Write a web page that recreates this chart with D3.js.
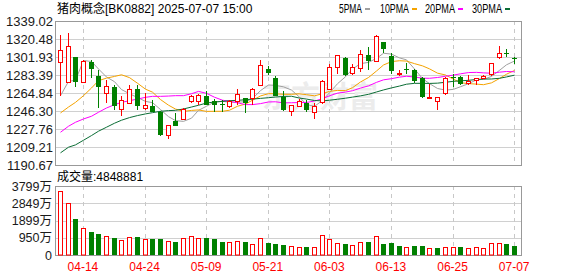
<!DOCTYPE html>
<html>
<head>
<meta charset="utf-8">
<script src="https://cdn.jsdelivr.net/npm/d3@7"></script>
<style>
  body { margin: 0; background: #fff; }
  svg { display: block; }
  text { font-family: "Liberation Sans", "Noto Sans CJK SC", sans-serif; }
</style>
</head>
<body>
<div id="chart"></div>
<script>
// daily k-line data, 2025-04-09 .. 2025-07-07 (prices in points, volume in 万)
const dates = [
  "04-09","04-10","04-11","04-14","04-15","04-16","04-17","04-18","04-21","04-22","04-23","04-24","04-25","04-28","04-29","04-30",
  "05-06","05-07","05-08","05-09","05-12","05-13","05-14","05-15","05-16","05-19","05-20","05-21","05-22","05-23","05-26","05-27","05-28","05-29","05-30",
  "06-03","06-04","06-05","06-06","06-09","06-10","06-11","06-12","06-13","06-16","06-17","06-18","06-19","06-20","06-23","06-24","06-25","06-26","06-27","06-30",
  "07-01","07-02","07-03","07-04","07-07"
];
const openPrices = [
  1296.6,1276.1,1302.1,1276.1,1296.6,1282.6,1264.5,1270.6,1248.4,1254.5,1269.2,1249.1,1251.8,1245.3,1222.0,1235.7,
  1238.1,1256.9,1256.9,1261.4,1256.9,1253.8,1251.8,1256.2,1259.3,1259.7,1273.0,1289.8,1280.2,1260.7,1246.7,1251.8,1254.5,1245.0,1255.2,
  1269.0,1291.5,1301.0,1285.7,1290.4,1304.1,1297.3,1317.1,1303.1,1284.9,1289.4,1288.7,1280.2,1259.7,1256.2,1265.1,1281.5,1281.2,1275.1,1277.8,
  1280.2,1284.3,1302.4,1305.8,1301.0
];
const highPrices = [
  1324.7,1327.0,1302.1,1299.0,1299.0,1288.1,1278.5,1273.0,1261.4,1273.3,1273.3,1264.8,1258.0,1246.7,1231.9,1244.3,
  1249.1,1263.1,1263.3,1267.2,1259.0,1258.0,1258.0,1269.2,1260.0,1269.6,1299.0,1292.8,1282.6,1267.2,1252.8,1258.7,1257.3,1254.5,1278.1,
  1294.9,1304.1,1301.7,1294.9,1309.3,1312.7,1325.0,1317.5,1305.8,1288.1,1295.6,1289.4,1281.2,1273.9,1260.4,1281.0,1284.9,1282.0,1283.6,1280.5,
  1283.6,1295.9,1313.4,1309.9,1301.7
];
const lowPrices = [
  1262.1,1275.8,1270.6,1276.1,1280.2,1249.1,1254.2,1247.4,1240.9,1254.5,1247.7,1247.7,1245.3,1221.0,1217.6,1230.6,
  1238.1,1254.5,1252.5,1252.8,1245.3,1245.3,1249.8,1252.8,1244.3,1252.8,1273.0,1283.6,1261.4,1246.0,1241.6,1251.8,1245.0,1238.5,1253.5,
  1268.3,1284.6,1281.9,1283.6,1286.0,1288.7,1297.3,1305.8,1284.6,1281.9,1284.6,1275.1,1259.3,1259.0,1247.7,1262.8,1270.6,1272.7,1272.7,1272.7,
  1279.2,1282.6,1299.7,1301.7,1294.9
];
const closePrices = [
  1309.3,1313.4,1275.7,1298.3,1289.8,1270.6,1272.0,1251.8,1257.6,1268.5,1251.1,1252.2,1245.3,1222.0,1231.9,1230.6,
  1248.4,1261.4,1262.8,1252.8,1252.5,1252.2,1256.2,1263.4,1254.5,1269.0,1293.5,1285.3,1261.4,1247.0,1252.2,1256.9,1247.7,1251.8,1277.4,
  1291.5,1303.5,1283.6,1291.5,1305.2,1298.3,1324.0,1310.0,1287.0,1285.7,1288.4,1276.8,1260.7,1261.0,1260.4,1280.2,1280.5,1274.3,1276.8,1280.2,
  1282.6,1295.6,1305.8,1305.2,1299.7
];
const volumes = [
  3524,2863,1982,1468,1266,1156,1028,936,826,973,973,863,881,881,771,716,
  918,1064,918,936,881,716,697,752,716,587,918,661,606,551,477,422,440,422,1083,
  863,642,606,532,697,716,1028,606,661,496,422,496,496,367,385,422,422,440,367,422,
  367,642,642,606,485
];
const ma5 = [
  1262.1,1276.8,1278.0,1298.3,1297.3,1289.6,1281.3,1276.5,1268.4,1264.1,1260.2,1256.2,1254.9,1247.8,1240.5,1236.4,
  1235.6,1238.9,1247.0,1251.2,1255.6,1256.3,1255.3,1255.4,1255.8,1259.1,1267.3,1273.1,1272.7,1271.2,1267.9,1260.6,1253.0,1251.1,1257.2,
  1265.1,1274.4,1281.6,1289.5,1295.1,1296.4,1300.5,1305.8,1304.9,1301.0,1299.0,1289.6,1279.7,1274.5,1269.5,1267.8,1268.6,1271.3,1274.4,1278.4,
  1278.9,1281.9,1288.2,1293.9,1297.8
];
const ma10 = [
  1244.3,1250.4,1255.2,1262.1,1270.0,1277.5,1280.2,1281.9,1283.6,1280.7,1274.9,1268.8,1265.7,1258.1,1252.3,1248.3,
  1245.9,1246.9,1247.4,1245.9,1246.0,1246.0,1247.1,1251.2,1253.5,1257.4,1261.8,1264.2,1264.1,1263.5,1263.5,1264.0,1263.1,1261.9,1264.2,
  1266.5,1267.5,1267.3,1270.3,1276.2,1280.8,1287.5,1293.7,1297.2,1298.1,1297.7,1295.1,1292.8,1289.7,1285.3,1283.4,1279.1,1275.5,1274.5,1274.0,
  1273.4,1275.3,1279.8,1284.2,1288.1
];
const ma20 = [
  1224.4,1230.6,1234.7,1238.1,1240.9,1245.0,1249.4,1252.8,1255.2,1256.9,1258.6,1260.4,1261.4,1261.4,1261.7,1262.1,
  1262.1,1264.1,1266.5,1264.5,1260.5,1257.4,1256.4,1254.7,1252.9,1252.9,1253.9,1255.6,1255.8,1254.7,1254.8,1255.0,1255.1,1256.6,1258.9,
  1262.0,1264.7,1265.8,1267.2,1269.9,1272.2,1275.8,1278.4,1279.6,1281.2,1282.1,1281.3,1280.1,1280.0,1280.8,1282.1,1283.3,1284.6,1285.9,1286.1,
  1285.6,1285.2,1286.3,1287.0,1286.7
];
const ma30 = [
  1203.2,1209.0,1211.4,1216.2,1221.0,1225.5,1229.6,1233.7,1236.8,1239.5,1241.6,1243.3,1244.6,1246.0,1246.7,1247.0,
  1248.4,1250.4,1252.2,1254.5,1255.6,1256.2,1256.9,1257.3,1257.9,1258.6,1259.3,1260.0,1260.7,1261.3,1261.5,1259.6,1258.6,1257.1,1256.7,
  1257.4,1258.4,1259.5,1260.6,1261.9,1263.5,1265.9,1268.0,1270.1,1272.0,1273.9,1274.8,1274.8,1274.7,1275.0,1275.9,1276.9,1277.4,1277.9,1278.8,
  1279.2,1279.3,1280.0,1281.4,1283.2
];

const priceTicks = [1190.67, 1209.21, 1227.76, 1246.30, 1264.84, 1283.39, 1301.93, 1320.48, 1339.02];
const volumeTicks = [0, 950, 1899, 2849, 3799];
const dateTicks = ["04-14", "04-24", "05-09", "05-21", "06-03", "06-13", "06-25", "07-07"];
const maNames = ["5PMA", "10PMA", "20PMA", "30PMA"];
const sectorName = "猪肉概念";
const sectorCode = "BK0882";
const stamp = "2025-07-07 15:00";
const lastVolume = 4848881;

const RED = "#ff0000", GREEN = "#008000";
const maColors = ["#a0a0a0", "#f5a300", "#ff00ff", "#0b6d35"];

const W = 578, H = 276;
const left = 55, right = 522;
const price = { top: 21, bottom: 165 };
const vol = { top: 186, bottom: 255 };

const svg = d3.select("#chart").append("svg")
    .attr("width", W)
    .attr("height", H);

const x = d3.scaleBand().domain(dates).range([56, 518]);
const cx = d => Math.round(x(d) + x.bandwidth() / 2);
const y = d3.scaleLinear()
    .domain([priceTicks[0], priceTicks[priceTicks.length - 1]])
    .range([price.bottom, price.top]);
const yv = d3.scaleLinear()
    .domain([0, volumeTicks[volumeTicks.length - 1]])
    .range([vol.bottom, vol.top]);

const rows = dates.map((d, i) => ({
    date: d,
    open: openPrices[i], high: highPrices[i], low: lowPrices[i], close: closePrices[i],
    volume: volumes[i],
    up: closePrices[i] >= openPrices[i],
    volUp: i === 0 ? closePrices[i] >= openPrices[i] : closePrices[i] >= closePrices[i - 1]
}));

// grid
const grid = svg.append("g").attr("fill", "none");
grid.selectAll(".hp").data(priceTicks).join("line")
    .attr("x1", left).attr("x2", right)
    .attr("y1", d => Math.round(y(d)) + 0.5).attr("y2", d => Math.round(y(d)) + 0.5)
    .attr("stroke", "#d0d0d0");
grid.selectAll(".hv").data(volumeTicks).join("line")
    .attr("x1", left).attr("x2", right)
    .attr("y1", d => Math.round(yv(d)) + 0.5).attr("y2", d => Math.round(yv(d)) + 0.5)
    .attr("stroke", "#d0d0d0");
[price, vol].forEach(p => {
    grid.append("g").selectAll("line").data(dateTicks).join("line")
        .attr("x1", d => cx(d) + 0.5).attr("x2", d => cx(d) + 0.5)
        .attr("y1", p.top).attr("y2", p.bottom)
        .attr("stroke", "#c8c8c8")
        .attr("stroke-dasharray", "4,4");
});

// watermark
svg.append("text")
    .attr("x", 262).attr("y", 107)
    .attr("textLength", 116)
    .attr("lengthAdjust", "spacingAndGlyphs")
    .style("font-size", "30px")
    .style("font-weight", "bold")
    .attr("fill", "#ececec")
    .text("东方财富");

// frames
[price, vol].forEach(p => {
    svg.append("rect")
        .attr("x", left + 0.5).attr("y", p.top + 0.5)
        .attr("width", right - left - 1).attr("height", p.bottom - p.top)
        .attr("fill", "none")
        .attr("stroke", "#999");
});

// moving averages
const line = d3.line().x((v, i) => cx(dates[i]) + 0.5).y(v => y(v));
[ma5, ma10, ma20, ma30].forEach((s, k) => {
    svg.append("path")
        .datum(s)
        .attr("d", line)
        .attr("fill", "none")
        .attr("stroke", maColors[k])
        .attr("stroke-width", 1);
});

// candles
const candles = svg.append("g");
rows.forEach(d => {
    const c = cx(d.date);
    const top = Math.round(y(Math.max(d.open, d.close)));
    const bot = Math.round(y(Math.min(d.open, d.close)));
    const hi = Math.round(y(d.high)), lo = Math.round(y(d.low));
    const h = Math.max(bot - top, 1);
    if (d.up) {
        if (hi < top) candles.append("line").attr("x1", c + 0.5).attr("x2", c + 0.5)
            .attr("y1", hi).attr("y2", top).attr("stroke", RED);
        if (lo > top + h) candles.append("line").attr("x1", c + 0.5).attr("x2", c + 0.5)
            .attr("y1", top + h).attr("y2", lo).attr("stroke", RED);
        candles.append("rect")
            .attr("x", c - 1.5).attr("y", top + 0.5)
            .attr("width", 4).attr("height", h)
            .attr("fill", "#fff").attr("stroke", RED);
    } else {
        candles.append("line").attr("x1", c + 0.5).attr("x2", c + 0.5)
            .attr("y1", hi).attr("y2", lo).attr("stroke", GREEN);
        candles.append("rect")
            .attr("x", c - 2).attr("y", top)
            .attr("width", 5).attr("height", h)
            .attr("fill", GREEN);
    }
});

// volume bars
svg.append("g").selectAll("rect").data(rows).join("rect")
    .attr("x", d => d.volUp ? cx(d.date) - 1.5 : cx(d.date) - 2)
    .attr("y", d => Math.round(yv(d.volume)) + (d.volUp ? 0.5 : 0))
    .attr("width", d => d.volUp ? 4 : 5)
    .attr("height", d => vol.bottom - Math.round(yv(d.volume)) - (d.volUp ? 0.5 : 0))
    .attr("fill", d => d.volUp ? "#fff" : GREEN)
    .attr("stroke", d => d.volUp ? RED : "none");

// axes
const yAxis = svg.append("g")
    .attr("transform", "translate(" + left + ",0)")
    .call(d3.axisLeft(y).tickValues(priceTicks).tickSize(0).tickPadding(2).tickFormat(d3.format(".2f")));
const vAxis = svg.append("g")
    .attr("transform", "translate(" + left + ",0)")
    .call(d3.axisLeft(yv).tickValues(volumeTicks).tickSize(0).tickPadding(3)
        .tickFormat(v => v === 0 ? "0" : v + "万"));
const xAxis = svg.append("g")
    .attr("transform", "translate(0," + vol.bottom + ")")
    .call(d3.axisBottom(x).tickValues(dateTicks).tickSize(0).tickPadding(7));
[yAxis, vAxis, xAxis].forEach(a => a.select(".domain").remove());
yAxis.selectAll("text").style("font-size", "13px").attr("fill", "#1a1a1a").style("font-family", null);
vAxis.selectAll("text").style("font-size", "12.5px").attr("fill", "#1a1a1a").style("font-family", null);
xAxis.selectAll("text").style("font-size", "12px").attr("fill", RED).style("font-family", null);
[yAxis, vAxis, xAxis].forEach(a => a.attr("font-family", null));

// header + legend
svg.append("text")
    .attr("x", 57).attr("y", 13)
    .style("font-size", "12px")
    .attr("fill", "#000")
    .text(sectorName + "[" + sectorCode + "] " + stamp);

const legendX = [339, 380, 425, 472];
const legendW = [23, 29, 30, 30];
maNames.forEach((name, k) => {
    svg.append("text")
        .attr("x", legendX[k]).attr("y", 13)
        .attr("textLength", legendW[k])
        .attr("lengthAdjust", "spacingAndGlyphs")
        .style("font-size", "12px")
        .attr("fill", "#000")
        .text(name);
    svg.append("rect")
        .attr("x", legendX[k] + legendW[k] + 3).attr("y", 8)
        .attr("width", 5).attr("height", 2)
        .attr("fill", maColors[k]);
});

svg.append("text")
    .attr("x", 57).attr("y", 181)
    .style("font-size", "12px")
    .attr("fill", "#000")
    .text("成交量:" + lastVolume);
</script>
</body>
</html>
